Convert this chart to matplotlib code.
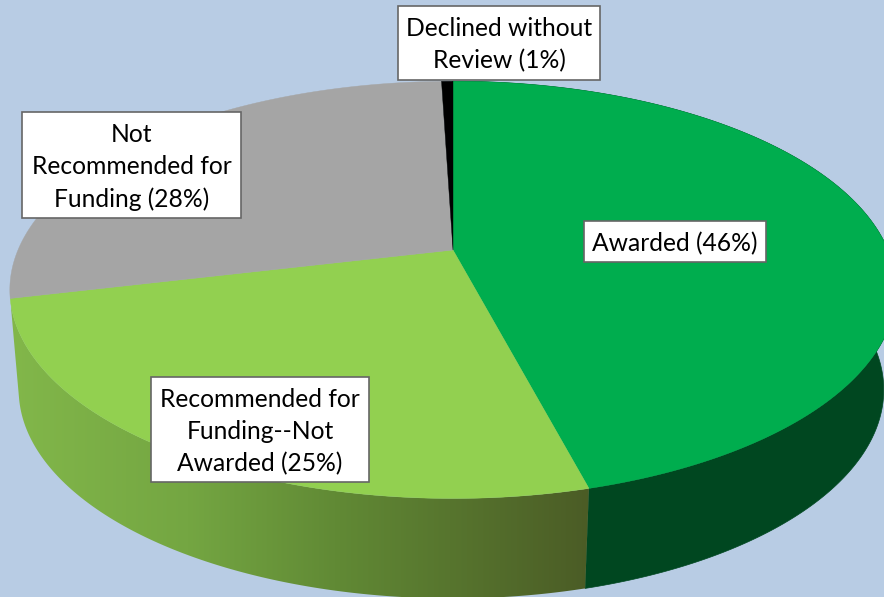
#!/usr/bin/env python3
"""Perspective 3D pie of proposal outcomes."""

import matplotlib
matplotlib.use("Agg")
import matplotlib.pyplot as plt
import numpy as np
from matplotlib.colors import LinearSegmentedColormap
from matplotlib.patches import Polygon, Rectangle

categories = ["Awarded", "Recommended for Funding--Not Awarded", "Not Recommended for Funding", "Declined without Review"]
shares = [45.9, 25.4, 28.2, 0.5]
labels = ["Awarded (46%)", "Recommended for\nFunding--Not\nAwarded (25%)", "Not\nRecommended for\nFunding (28%)", "Declined without\nReview (1%)"]
top_colors = ["#00ad4e", "#92d050", "#a5a5a5", "#000000"]
label_boxes = [(584, 221, 182, 41), (151, 377, 218, 105), (22, 112, 219, 106), (398, 6, 202, 74)]

BG = "#b8cce4"
APEX_X, APEX_Y = 453.0, 250.0
A, B, K = 435.0, 201.0, 0.191
DEPTH = 100.0
SHRINK_LEFT = 0.98
SHRINK_RIGHT = 0.972


def rim(start, stop):
    # points on the top rim, fractions run clockwise from 12 o'clock
    theta = 2 * np.pi * np.linspace(start, stop, 300)
    u, v = np.sin(theta), np.cos(theta)
    w = 1 + K * v
    return APEX_X + A * u / w, APEX_Y - B * v / w


def lower(x, y):
    shrink = np.where(x > APEX_X, SHRINK_RIGHT, SHRINK_LEFT)
    return APEX_X + (x - APEX_X) * shrink, y + DEPTH


fig = plt.figure(figsize=(8.84, 5.97), dpi=100, facecolor=BG)
ax = fig.add_axes([0, 0, 1, 1])
ax.set_xlim(0, 884)
ax.set_ylim(597, 0)
ax.axis("off")

edges = np.cumsum([0] + shares) / sum(shares)

# side walls, only the two front slices show
x0, y0 = rim(edges[0], edges[1])
xb, yb = lower(x0, y0)
wall = np.vstack([np.r_[x0, xb[::-1]], np.r_[y0, yb[::-1]]]).T
ax.add_patch(Polygon(wall, closed=True, fc="#004720", ec="#004720", lw=0.5, zorder=2))

x1, y1 = rim(edges[1], edges[2])
xb, yb = lower(x1, y1)
wall = np.vstack([np.r_[x1, xb[::-1]], np.r_[y1, yb[::-1]]]).T
clip = Polygon(wall, closed=True, transform=ax.transData, fc="none", ec="none")
ax.add_patch(clip)
wall_cmap = LinearSegmentedColormap.from_list(
    "wall", [(0.0, "#82b74a"), (0.3, "#74a642"), (0.55, "#618a35"), (1.0, "#4a5a25")]
)
grad = ax.imshow(
    np.linspace(0, 1, 256)[None, :],
    extent=(11, 600, 597, 280),
    cmap=wall_cmap,
    aspect="auto",
    zorder=2,
)
grad.set_clip_path(clip)
ax.set_xlim(0, 884)
ax.set_ylim(597, 0)

# top face
for i, color in enumerate(top_colors):
    x, y = rim(edges[i], edges[i + 1])
    pts = np.vstack([np.r_[APEX_X, x], np.r_[APEX_Y, y]]).T
    ax.add_patch(Polygon(pts, closed=True, fc=color, ec=color, lw=0.3, zorder=3))

# label boxes
for text, (bx, by, bw, bh) in zip(labels, label_boxes):
    ax.add_patch(Rectangle((bx, by), bw, bh, fc="white", ec="#666666", lw=1.2, zorder=4))
    ax.text(bx + bw / 2, by + bh / 2 + 2, text, ha="center", va="center", fontsize=17.7, family="Lato",
            color="black", linespacing=1.47, zorder=5)

fig.savefig("out.png", dpi=100, facecolor=BG)
